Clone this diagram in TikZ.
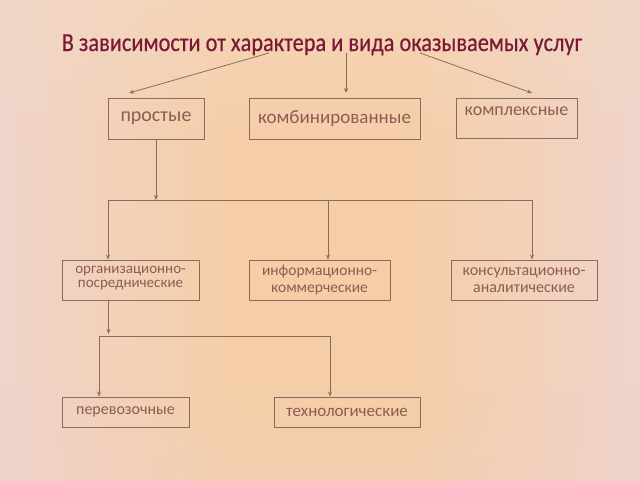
\documentclass[tikz,border=0pt]{standalone}
\usepackage{fontspec}
\setmainfont{Carlito}
\newfontfamily\titlefont[FakeStretch=0.86,FakeBold=0.4]{Carlito}
\usetikzlibrary{arrows.meta,shadings,fadings}
\definecolor{bgin}{HTML}{F5CEA8}
\definecolor{bgout}{HTML}{EFD4CB}
\definecolor{bgtop}{HTML}{F5DCC6}
\definecolor{bgcorner}{HTML}{EDCFC8}
\definecolor{linec}{HTML}{8A6A5C}
\definecolor{txtc}{HTML}{8E5C52}
\definecolor{titlec}{HTML}{7A1838}
\tikzset{
  box/.style={draw=linec, line width=0.9pt, inner sep=0pt, text=txtc},
  lbl/.style={text=txtc, inner sep=0pt, align=center},
  conn/.style={draw=linec, line width=0.8pt},
  arr/.style={conn, -{Stealth[length=5pt,width=4pt]}},
}
\begin{document}
\begin{tikzpicture}[x=1pt,y=-1pt]
\useasboundingbox (0,0) rectangle (640,480);
\fill[bgin] (-2,-2) rectangle (642,482);
\shade[left color=bgout, right color=bgin] (-2,-2) rectangle (230,482);
\shade[left color=bgin, right color=bgout] (410,-2) rectangle (642,482);
\fill[bgtop, path fading=south, fill opacity=0.55] (-20,-30) rectangle (660,150);
\fill[bgcorner, path fading=north, fill opacity=0.3] (-20,390) rectangle (660,510);
\node[text=titlec, font=\titlefont\fontsize{26}{28}\selectfont, anchor=base] (title) at (322,51) {В зависимости от характера и вида оказываемых услуг};
% level 1
\node[box, minimum width=96, minimum height=41, font=\fontsize{20}{22}\selectfont] (p) at (156,118.5) {простые};
\node[box, minimum width=171, minimum height=41, font=\fontsize{19}{21}\selectfont] (k) at (334.5,118.5) {комбинированные};
\node[box, minimum width=121, minimum height=40] (kx) at (516.5,118) {};
\node[lbl, font=\fontsize{18}{20}\selectfont] (kxt) at (516.5,111) {комплексные};
% arrows from title
\coordinate (t1) at (269,53);
\coordinate (t2) at (346,53);
\coordinate (t3) at (420,53);
\draw[arr] (t1) -- (129,93);
\draw[arr] (t2) -- (346,93);
\draw[arr] (t3) -- (532,93);
% level 2
\node[box, minimum width=137, minimum height=40] (o) at (130.5,280) {};
\node[lbl, font=\fontsize{15}{14.5}\selectfont] (ot) at (130.5,278) {организационно-\\посреднические};
\node[box, minimum width=141, minimum height=40, align=center, font=\fontsize{15.5}{17}\selectfont] (i) at (319.5,280) {информационно-\\коммерческие};
\node[box, minimum width=146, minimum height=40, align=center, font=\fontsize{16}{17}\selectfont] (c) at (524,280) {консультационно-\\аналитические};
\coordinate (b1) at (156,200);
\coordinate (bl) at (108,200);
\coordinate (bm) at (328,200);
\coordinate (br) at (532,200);
\draw[arr] (p.south) -- (b1);
\draw[conn] (bl) -- (br);
\draw[arr] (bl) -- (bl |- o.north);
\draw[arr] (bm) -- (bm |- i.north);
\draw[arr] (br) -- (br |- c.north);
% level 3
\node[box, minimum width=127, minimum height=30, font=\fontsize{16}{18}\selectfont] (pe) at (125.5,412) {перевозочные};
\node[box, minimum width=146, minimum height=30, font=\fontsize{17}{19}\selectfont] (te) at (347,412) {технологические};
\coordinate (b2) at (108.5,334);
\coordinate (cl) at (99,336);
\coordinate (cr) at (330,336);
\draw[arr] (b2 |- o.south) -- (b2);
\draw[conn] (cl) -- (cr);
\draw[arr] (cl) -- (cl |- pe.north);
\draw[arr] (cr) -- (cr |- te.north);
\end{tikzpicture}
\end{document}
